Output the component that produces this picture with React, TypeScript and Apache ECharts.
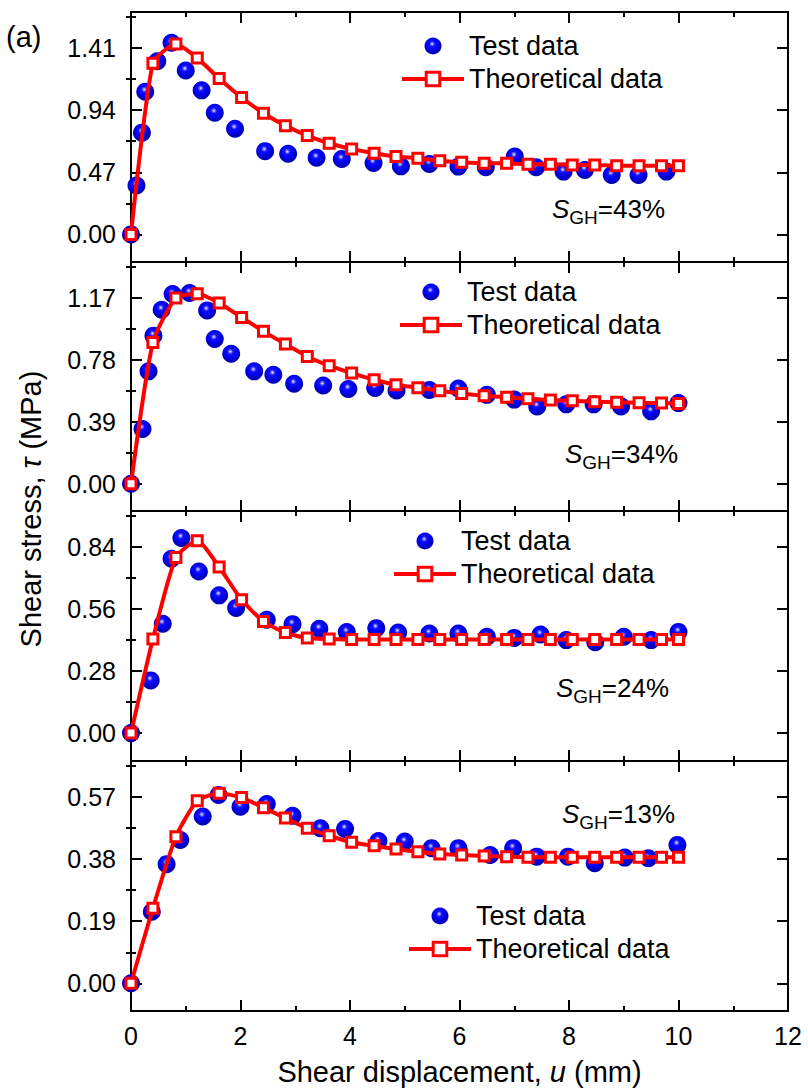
import React, { useEffect, useRef } from 'react';
import * as echarts from 'echarts';

// ---------- data ----------
const theoX = [0, 0.4, 0.82, 1.21, 1.61, 2.02, 2.42, 2.82, 3.22, 3.62, 4.03, 4.44, 4.84, 5.24, 5.64, 6.04, 6.45, 6.86, 7.25, 7.66, 8.06, 8.47, 8.87, 9.28, 9.69, 10.0];

const theo43 = [0, 1.296, 1.44, 1.334, 1.18, 1.036, 0.917, 0.823, 0.748, 0.69, 0.647, 0.614, 0.589, 0.576, 0.558, 0.546, 0.538, 0.538, 0.531, 0.531, 0.525, 0.525, 0.52, 0.52, 0.52, 0.52];
const theo34 = [0, 0.89, 1.17, 1.197, 1.139, 1.048, 0.96, 0.88, 0.802, 0.744, 0.697, 0.655, 0.624, 0.605, 0.585, 0.568, 0.555, 0.545, 0.535, 0.528, 0.522, 0.517, 0.513, 0.51, 0.508, 0.506];
const theo24 = [0, 0.425, 0.793, 0.869, 0.75, 0.602, 0.504, 0.454, 0.429, 0.425, 0.423, 0.423, 0.423, 0.423, 0.423, 0.423, 0.423, 0.423, 0.423, 0.423, 0.423, 0.423, 0.423, 0.423, 0.423, 0.423];
const theo13 = [0, 0.23, 0.449, 0.559, 0.582, 0.569, 0.538, 0.506, 0.475, 0.452, 0.432, 0.421, 0.411, 0.403, 0.396, 0.393, 0.39, 0.388, 0.386, 0.386, 0.386, 0.386, 0.386, 0.386, 0.386, 0.386];

const test43X = [0, 0.1, 0.2, 0.26, 0.48, 0.74, 1.0, 1.29, 1.53, 1.9, 2.45, 2.87, 3.39, 3.85, 4.43, 4.93, 5.45, 5.98, 6.48, 7.01, 7.4, 7.9, 8.29, 8.78, 9.27, 9.78];
const test43Y = [0, 0.37, 0.77, 1.08, 1.31, 1.45, 1.24, 1.09, 0.92, 0.8, 0.63, 0.61, 0.58, 0.57, 0.54, 0.515, 0.533, 0.513, 0.508, 0.589, 0.508, 0.475, 0.487, 0.45, 0.45, 0.475];

const test34X = [0, 0.21, 0.32, 0.41, 0.56, 0.76, 1.07, 1.39, 1.53, 1.83, 2.25, 2.6, 2.98, 3.51, 3.97, 4.46, 4.85, 5.45, 5.98, 6.5, 7.0, 7.42, 7.95, 8.45, 8.95, 9.5, 10.0];
const test34Y = [0, 0.345, 0.708, 0.933, 1.096, 1.195, 1.202, 1.092, 0.912, 0.819, 0.708, 0.687, 0.63, 0.619, 0.597, 0.603, 0.588, 0.59, 0.6, 0.56, 0.53, 0.487, 0.5, 0.5, 0.487, 0.456, 0.508];

const test24X = [0, 0.36, 0.58, 0.74, 0.92, 1.24, 1.61, 1.92, 2.48, 2.95, 3.44, 3.94, 4.48, 4.88, 5.45, 5.98, 6.5, 7.0, 7.48, 7.95, 8.48, 9.0, 9.5, 10.0];
const test24Y = [0, 0.238, 0.494, 0.787, 0.881, 0.73, 0.622, 0.565, 0.512, 0.492, 0.471, 0.456, 0.474, 0.454, 0.45, 0.45, 0.435, 0.43, 0.445, 0.42, 0.41, 0.435, 0.42, 0.457];

const test13X = [0, 0.38, 0.65, 0.9, 1.31, 1.6, 2.0, 2.48, 2.95, 3.46, 3.91, 4.52, 5.0, 5.49, 5.98, 6.56, 6.98, 7.41, 7.98, 8.47, 9.02, 9.45, 9.98];
const test13Y = [0, 0.219, 0.365, 0.439, 0.511, 0.577, 0.541, 0.549, 0.513, 0.475, 0.473, 0.436, 0.434, 0.414, 0.414, 0.393, 0.414, 0.388, 0.388, 0.368, 0.385, 0.383, 0.424];

const majors43 = [0, 0.47, 0.94, 1.41];
const majors34 = [0, 0.39, 0.78, 1.17];
const majors24 = [0, 0.28, 0.56, 0.84];
const majors13 = [0, 0.19, 0.38, 0.57];
const xTickLabels = [0, 2, 4, 6, 8, 10, 12];
const labels = ['43%', '34%', '24%', '13%'];

// ---------- layout ----------
const FONT = "'Liberation Sans', Arial, Helvetica, sans-serif";
const GRID_LEFT = 131;
const GRID_W = 657;
const RED = '#ff0000';
const panelLayout = [
  { top: 12, height: 250, min: -0.209, max: 1.683, legendLeft: 400, legendTop: 31, annX: 552, annY: 209 },
  { top: 262, height: 249, min: -0.172, max: 1.397, legendLeft: 398, legendTop: 277, annX: 565, annY: 454 },
  { top: 511, height: 250, min: -0.126, max: 1.003, legendLeft: 392, legendTop: 526, annX: 556, annY: 688 },
  { top: 761, height: 250, min: -0.085, max: 0.681, legendLeft: 407, legendTop: 901, annX: 562, annY: 814 },
];

const panelData = [
  { testX: test43X, testY: test43Y, theo: theo43, majors: majors43 },
  { testX: test34X, testY: test34Y, theo: theo34, majors: majors34 },
  { testX: test24X, testY: test24Y, theo: theo24, majors: majors24 },
  { testX: test13X, testY: test13Y, theo: theo13, majors: majors13 },
];

const zip = (a: number[], b: number[]) => a.map((v, i) => [v, b[i]]);

function buildOption() {
  const axisLine = { show: true, onZero: false, lineStyle: { color: '#000', width: 2 } };
  const grid: any[] = [];
  const xAxis: any[] = [];
  const yAxis: any[] = [];
  const series: any[] = [];
  const legend: any[] = [];
  const graphic: any[] = [];

  const ball = new echarts.graphic.RadialGradient(0.45, 0.38, 0.5, [
    { offset: 0, color: '#f4f4ff' },
    { offset: 0.14, color: '#8080ff' },
    { offset: 0.32, color: '#1010ff' },
    { offset: 0.7, color: '#0000f0' },
    { offset: 1, color: '#0000b8' },
  ]);

  panelLayout.forEach((p, g) => {
    const d = panelData[g];
    const step = d.majors[1];
    const minors = d.majors.map((v) => +(v + step / 2).toFixed(4)).filter((v) => v < p.max);
    grid.push({ left: GRID_LEFT, width: GRID_W, top: p.top, height: p.height, containLabel: false });

    const xBase = {
      gridIndex: g,
      type: 'value',
      min: 0,
      max: 12,
      interval: 2,
      axisLine,
      axisTick: { show: true, inside: true, length: 11, lineStyle: { color: '#000', width: 2 } },
      minorTick: { show: true, splitNumber: 2, length: 5, lineStyle: { color: '#000', width: 2 } },
      splitLine: { show: false },
      minorSplitLine: { show: false },
    };
    xAxis.push({
      ...xBase,
      position: 'bottom',
      axisLabel: {
        show: g === 3,
        fontSize: 25,
        fontFamily: FONT,
        color: '#000',
        margin: 12,
        customValues: xTickLabels,
      },
      ...(g === 3
        ? {
            name: 'Shear displacement, {i|u} (mm)',
            nameLocation: 'middle',
            nameGap: 46,
            nameTextStyle: {
              fontSize: 29,
              fontFamily: FONT,
              color: '#000',
              rich: { i: { fontSize: 29, fontFamily: FONT, fontStyle: 'italic', color: '#000' } },
            },
          }
        : {}),
    });
    xAxis.push({ ...xBase, position: 'top', axisLabel: { show: false } });

    const yBase = {
      gridIndex: g,
      type: 'value',
      min: p.min,
      max: p.max,
      splitLine: { show: false },
    };
    yAxis.push({
      ...yBase,
      position: 'left',
      axisLine,
      axisTick: { show: true, inside: true, length: 11, customValues: d.majors, lineStyle: { color: '#000', width: 2 } },
      axisLabel: {
        show: true,
        customValues: d.majors,
        formatter: (v: number) => v.toFixed(2),
        fontSize: 25,
        fontFamily: FONT,
        color: '#000',
        margin: 15,
      },
    });
    yAxis.push({
      ...yBase,
      position: 'left',
      axisLine: { show: false },
      axisTick: { show: true, inside: true, length: 5, customValues: minors, lineStyle: { color: '#000', width: 2 } },
      axisLabel: { show: false },
    });
    yAxis.push({
      ...yBase,
      position: 'right',
      axisLine,
      axisTick: { show: true, inside: true, length: 11, customValues: d.majors, lineStyle: { color: '#000', width: 2 } },
      axisLabel: { show: false },
    });
    yAxis.push({
      ...yBase,
      position: 'right',
      axisLine: { show: false },
      axisTick: { show: true, inside: true, length: 5, customValues: minors, lineStyle: { color: '#000', width: 2 } },
      axisLabel: { show: false },
    });

    series.push({
      name: 'Test data',
      type: 'scatter',
      xAxisIndex: 2 * g,
      yAxisIndex: 4 * g,
      data: zip(d.testX, d.testY),
      symbol: 'circle',
      symbolSize: 18,
      itemStyle: { color: ball, opacity: 1 },
      z: 2,
    });
    series.push({
      name: 'Theoretical data',
      type: 'line',
      xAxisIndex: 2 * g,
      yAxisIndex: 4 * g,
      data: zip(theoX, d.theo),
      symbol: 'rect',
      symbolSize: 10,
      showAllSymbol: true,
      smooth: 0.2,
      itemStyle: { color: '#ffffff', borderColor: RED, borderWidth: 3 },
      lineStyle: { color: RED, width: 4 },
      z: 3,
    });

    legend.push({
      show: true,
      orient: 'vertical',
      left: p.legendLeft,
      top: p.legendTop,
      padding: 0,
      itemGap: 3,
      itemWidth: 62,
      itemHeight: 17,
      selectedMode: false,
      data: [
        { name: 'Test data' },
        {
          name: 'Theoretical data',
          itemStyle: { color: '#ffffff', borderColor: RED, borderWidth: 3 },
          lineStyle: { color: RED, width: 4 },
        },
      ],
      textStyle: { fontSize: 27, fontFamily: FONT, color: '#000', lineHeight: 30 },
    });

    graphic.push({
      type: 'text',
      x: p.annX,
      y: p.annY,
      style: {
        text: '{s|S}{sub|GH}{n|=' + labels[g] + '}',
        align: 'left',
        verticalAlign: 'middle',
        fill: '#000',
        rich: {
          s: { fontSize: 26, fontFamily: FONT, fontStyle: 'italic', fill: '#000', lineHeight: 26 },
          sub: { fontSize: 19, fontFamily: FONT, fill: '#000', lineHeight: 19, padding: [16, 0, 0, 0] },
          n: { fontSize: 26, fontFamily: FONT, fill: '#000', lineHeight: 26 },
        },
      },
      z: 10,
    });
  });

  graphic.push({
    type: 'text',
    x: 6,
    y: 37,
    style: { text: '(a)', fontSize: 29, fontFamily: FONT, fill: '#000', align: 'left', verticalAlign: 'middle' },
  });
  graphic.push({
    type: 'text',
    x: 31,
    y: 509,
    rotation: Math.PI / 2,
    style: {
      text: 'Shear stress, {i|τ} (MPa)',
      fontSize: 29,
      fontFamily: FONT,
      fill: '#000',
      align: 'center',
      verticalAlign: 'middle',
      rich: { i: { fontSize: 29, fontFamily: FONT, fontStyle: 'italic', fill: '#000' } },
    },
  });

  return {
    animation: false,
    backgroundColor: '#ffffff',
    grid,
    xAxis,
    yAxis,
    series,
    legend,
    graphic,
  };
}

export default function App() {
  const ref = useRef<HTMLDivElement>(null);
  useEffect(() => {
    document.body.style.margin = '0';
    const chart = echarts.init(ref.current as HTMLDivElement, null, { renderer: 'svg' });
    chart.setOption(buildOption() as any);
    return () => chart.dispose();
  }, []);
  return <div ref={ref} style={{ position: 'absolute', left: 0, top: 0, width: 808, height: 1088 }} />;
}
